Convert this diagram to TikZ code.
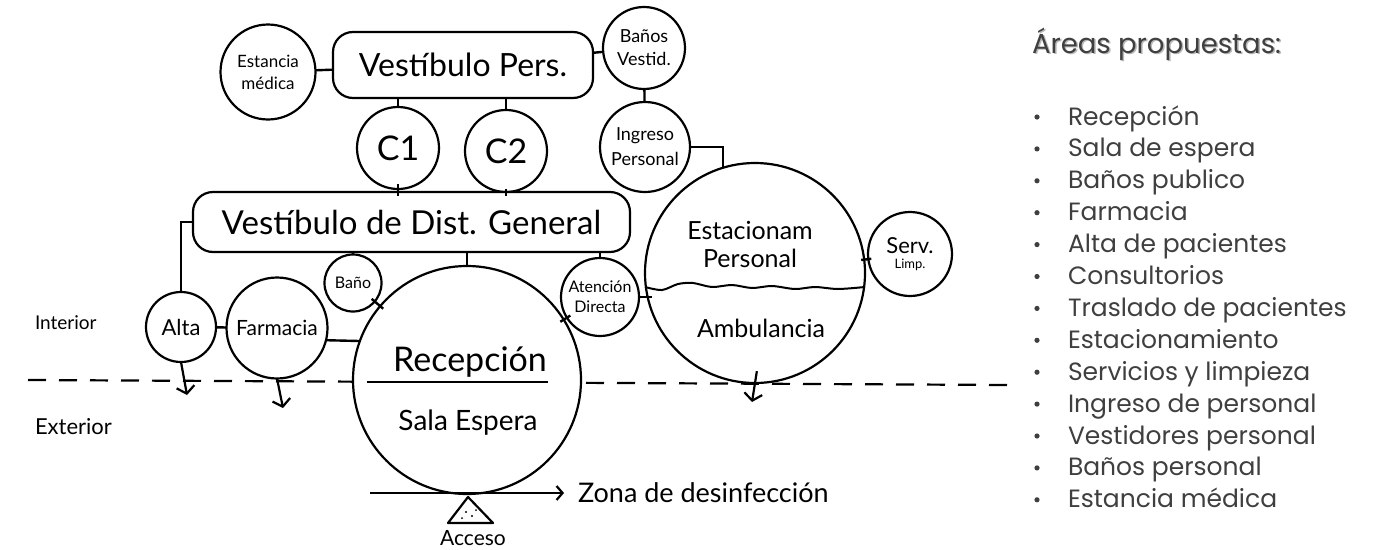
\documentclass[tikz,border=0pt]{standalone}
\usepackage{fontspec}
\setmainfont{Lato}
\newfontfamily\listfont{Poppins}
\usetikzlibrary{arrows.meta,calc}
\definecolor{listgray}{HTML}{3F3F3F}
\definecolor{shadowgray}{HTML}{B8B8B8}
\begin{document}
\begin{tikzpicture}[x=1pt,y=-1pt,
  every node/.style={inner sep=0pt, outer sep=0pt},
  circ/.style={draw, circle, line width=2.2pt, align=center, fill=white},
  rbox/.style={draw, rounded corners=20pt, line width=2.2pt, fill=white},
  link/.style={line width=2.4pt},
  downarr/.style={line width=2.2pt, -{Straight Barb[length=7pt,width=18pt,line width=2.2pt]}},
  lbl/.style={align=center},
  listitem/.style={anchor=base west, text=listgray, font=\listfont\fontsize{25}{25}\selectfont},
]
\useasboundingbox (0,0) rectangle (1386,549);

% interior / exterior separation
\draw[line width=2.2pt, dash pattern=on 18pt off 13pt] (28,380) -- (1010,385);

% ---- upper staff group
\node[circ, minimum size=95, font=\fontsize{17}{22}\selectfont] (em) at (268,72) {Estancia\\médica};
\node[rbox, minimum width=260, minimum height=66, font=\fontsize{32}{32}\selectfont] (vp) at (463,65) {Vestíbulo Pers.};
\node[circ, minimum size=82, font=\fontsize{18}{23}\selectfont] (bv) at (644,48) {Baños\\Vestid.};
\node[circ, minimum size=82, font=\fontsize{34}{34}\selectfont] (c1) at (398,148) {C1};
\node[circ, minimum size=82, font=\fontsize{34}{34}\selectfont] (c2) at (506,151) {C2};
\node[circ, minimum size=90, font=\fontsize{18}{25}\selectfont] (ip) at (645,147) {Ingreso\\Personal};

% ---- general hall
\node[rbox, minimum width=437, minimum height=60, font=\fontsize{33}{33}\selectfont] (vd) at (411.5,222) {Vestíbulo de Dist. General};

% ---- public group
\node[circ, minimum size=70, font=\fontsize{22}{22}\selectfont] (alta) at (181,327) {Alta};
\node[circ, minimum size=101, font=\fontsize{21}{21}\selectfont] (farm) at (277,328) {Farmacia};
\node[circ, minimum size=57, font=\fontsize{16}{16}\selectfont] (bano) at (353,283) {Baño};
\node[circ, minimum size=228] (rec) at (467,380) {};
\node[circ, minimum size=78, font=\fontsize{16}{20}\selectfont] (at) at (600,297) {Atención\\Directa};

\node[lbl, font=\fontsize{34}{34}\selectfont] (rect) at (470,362) {Recepción};
\draw[line width=2.2pt] (367,382) -- (548,382);
\node[lbl, font=\fontsize{28}{28}\selectfont] (sala) at (468,423) {Sala Espera};

% ---- parking
\node[circ, minimum size=220] (est) at (755,273) {};
\node[lbl, font=\fontsize{25}{28}\selectfont] (estt) at (750,244) {Estacionam\\Personal};
\draw[line width=2pt] plot[smooth] coordinates {(645,287) (662,290) (678,284) (693,283) (712,287) (732,285) (752,288) (772,286) (795,289) (815,287) (838,289) (865,287)};
\node[lbl, font=\fontsize{25}{25}\selectfont] (amb) at (761,328) {Ambulancia};
\node[circ, minimum size=84, align=center] (sl) at (910,254) {{\fontsize{22}{22}\selectfont Serv.}\\[3pt]{\fontsize{13}{13}\selectfont Limp.}};

% ---- connectors
\draw[link] (em) -- (vp);
\draw[link] (vp) -- (bv);
\draw[link] (vp.south -| c1) -- (c1.north);
\draw[link] (vp.south -| c2) -- (c2.north);
\draw[link, shorten <=-5pt, shorten >=-4pt] (c1.south) -- (vd.north -| c1);
\draw[link, shorten <=-3pt, shorten >=-4pt] (c2.south) -- (vd.north -| c2);
\draw[link] (bv) -- (ip);
\draw[link] (ip.east) -| (est.107);
\draw[link] (vd.west) -| (alta.north);
\draw[link] (vd.south -| bano) -- (bano.north);
\draw[link] (vd.south -| rec) -- (rec.north);
\draw[link] (vd.south -| at) -- (at.north);
\draw[link] (alta) -- (farm);
\draw[link] (farm.-14) -- (rec.160);
\draw[link, shorten <=-4pt, shorten >=-4pt] (bano) -- (rec);
\draw[link, shorten <=-4pt, shorten >=-4pt] (at) -- (rec);
\draw[link, shorten >=-7pt] (at.east) -- (at.east -| est.west);
\draw[link, shorten <=-3pt, shorten >=-3pt] (est) -- (sl);

% ---- exits to exterior
\coordinate (a1) at (187,395);
\coordinate (f1) at (283,408);
\coordinate (e1) at (752,402);
\draw[downarr] (alta.south) -- (a1);
\draw[downarr] (farm.south) -- (f1);
\draw[downarr, shorten <=-12pt] (est.south) -- (e1);

% ---- access
\coordinate (z0) at (370,493);
\node[anchor=west, inner sep=0pt, font=\fontsize{27}{27}\selectfont] (zona) at (578,493) {Zona de desinfección};
\draw[line width=2.2pt, -{Straight Barb[length=6pt,width=14pt,line width=2.2pt]}, shorten >=14pt] (z0) -- (zona.west);
\coordinate (t1) at (468,497);
\coordinate (t2) at (493,523);
\coordinate (t3) at (448,523);
\draw[line width=2.2pt, line join=round] (t1) -- (t2) -- (t3) -- cycle;
\fill (466,512) circle (1.2) (472,516) circle (1.2) (476,510) circle (1.0) (462,518) circle (1.0);
\node[font=\fontsize{21}{21}\selectfont] (acc) at (473,538) {Acceso};

% ---- side labels
\node[anchor=west, font=\fontsize{19}{19}\selectfont] (intl) at (35,323) {Interior};
\node[anchor=west, font=\fontsize{22}{22}\selectfont] (extl) at (35,427) {Exterior};

% ---- list
\node[anchor=base west, text=shadowgray, font=\listfont\fontsize{27.5}{27.5}\selectfont] (titsh) at (1033.5,54.5) {Áreas propuestas:};
\node[anchor=base west, text=listgray, font=\listfont\fontsize{27.5}{27.5}\selectfont] (tit) at (1032,53) {Áreas propuestas:};
\foreach \t [count=\i from 0] in {Recepción, Sala de espera, Baños publico, Farmacia, Alta de pacientes, Consultorios, Traslado de pacientes, Estacionamiento, Servicios y limpieza, Ingreso de personal, Vestidores personal, Baños personal, Estancia médica}{
  \node[listitem] (li\i) at ({1068},{125+31.9*\i}) {\t};
  \fill[listgray] ({1037},{117+31.9*\i}) circle (2.6);
}
\end{tikzpicture}
\end{document}
